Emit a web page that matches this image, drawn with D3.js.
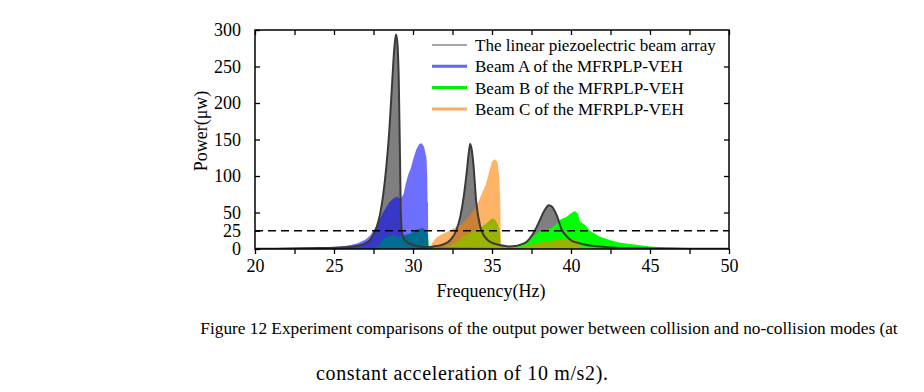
<!DOCTYPE html>
<html>
<head>
<meta charset="utf-8">
<script src="https://cdn.jsdelivr.net/npm/d3@7"></script>
<style>
  html, body { margin: 0; padding: 0; background: #fff; }
  svg { display: block; font-family: "Times New Roman", "Liberation Serif", serif; }
</style>
</head>
<body>
<svg id="chart" width="924" height="392"></svg>
<script>
// ---- data ----
const xTicks = [20, 25, 30, 35, 40, 45, 50];
const yTicks = [0, 25, 50, 100, 150, 200, 250, 300];
const thresholdLevel = 25;

const legendLabels = [
  "The linear piezoelectric beam array",
  "Beam A of the MFRPLP-VEH",
  "Beam B of the MFRPLP-VEH",
  "Beam C of the MFRPLP-VEH"
];

// linear piezoelectric beam array (gray)
const linearF = [20, 22, 24, 25, 26, 26.5, 27, 27.3, 27.5, 27.7, 27.9, 28.1, 28.3, 28.5, 28.7, 28.8, 28.92, 29.0, 29.1, 29.18, 29.22, 29.27, 29.35, 29.5, 29.7, 30.0, 30.5, 30.9, 31.3, 31.7, 32.0, 32.35, 32.75, 33.0, 33.2, 33.4, 33.55, 33.62, 33.7, 33.82, 34.0, 34.25, 34.5, 34.8, 35.2, 35.6, 36.1, 36.5, 36.8, 37.2, 37.6, 38.0, 38.3, 38.6, 38.8, 39.1, 39.4, 39.7, 40.0, 40.5, 41.0, 42.0, 43.0, 45.0, 47.5, 50];
const linearP = [0.3, 0.6, 1.2, 1.8, 3, 4.5, 8, 13, 20, 30, 46, 72, 110, 162, 235, 270, 294, 285, 230, 120, 60, 30, 18, 12, 8, 5.5, 3, 2.5, 3.5, 5, 7, 12, 26, 45, 70, 105, 135, 144, 138, 117, 65, 31, 18, 11, 7, 5, 3.5, 4, 6, 10, 21, 38, 52, 60, 58, 46, 27, 18, 12, 8, 5.5, 3, 1.5, 0.8, 0.4, 0.2];

// Beam A (blue)
const beamAF = [20, 22, 24, 25, 25.5, 26, 26.5, 27, 27.3, 27.7, 28.1, 28.5, 28.8, 29.0, 29.2, 29.4, 29.55, 29.7, 29.85, 30.0, 30.2, 30.4, 30.55, 30.7, 30.85, 30.9, 30.92, 30.95, 30.96, 31.0, 31.5, 32, 33, 34, 35, 36, 38, 40, 42, 50];
const beamAP = [0.8, 1.2, 1.8, 2.5, 3.5, 5, 8, 13, 19, 32, 50, 64, 70, 72, 68, 75, 90, 102, 110, 122, 136, 144, 145, 140, 125, 100, 64, 64, 5, 4, 3.5, 3, 2.5, 2, 1.8, 1.5, 1, 0.5, 0.2, 0];

// Beam B (green)
const beamBF = [20, 26, 27.5, 27.8, 28.1, 28.5, 28.8, 29.0, 29.4, 29.8, 30.2, 30.6, 30.8, 30.95, 31.0, 31.5, 32.0, 32.4, 32.8, 33.2, 33.6, 34.0, 34.4, 34.7, 35.0, 35.2, 35.4, 35.5, 35.55, 35.6, 36.0, 36.5, 36.8, 37.2, 37.6, 38.0, 38.4, 38.7, 39.0, 39.3, 39.7, 40.0, 40.25, 40.45, 40.55, 40.9, 41.2, 41.8, 42.5, 43.1, 44.4, 45.0, 46.0, 47.0, 48.0, 50];
const beamBP = [0, 0.5, 1.5, 4, 14, 18, 19, 16, 19, 21, 26, 29, 25, 20, 4, 2.5, 3, 5, 10, 17, 22, 26, 31, 36, 42, 40, 32, 22, 3, 2.5, 2.5, 3.5, 6, 11, 17, 24, 26, 28, 33, 40, 44, 49, 52, 48, 38, 33, 25, 17, 12, 8.5, 5, 3.5, 2, 1, 0.5, 0.2];

// Beam C (orange)
const beamCF = [20, 31.1, 31.2, 31.5, 31.9, 32.3, 32.75, 32.88, 32.9, 32.95, 32.97, 33.2, 33.6, 34.0, 34.3, 34.6, 34.85, 35.0, 35.2, 35.35, 35.45, 35.52, 35.57, 35.6, 36.0, 37.0, 37.6, 38.3, 39.0, 39.7, 40.2, 40.5, 40.6, 41.0, 42, 50];
const beamCP = [0, 0, 8, 16, 21, 25, 30, 31, 38, 38, 32, 37, 46, 58, 73, 88, 108, 120, 123, 119, 100, 70, 3, 2.5, 2.5, 3, 7, 10, 12, 14, 14, 10, 3, 1.5, 0.5, 0];

// ---- chart ----
const svg = d3.select("#chart");
const x = d3.scaleLinear().domain([20, 50]).range([255, 729]);
const y = d3.scaleLinear().domain([0, 300]).range([249, 30]);

const toPts = (F, P) => F.map((f, i) => [f, P[i]]);
const area = d3.area().x(d => x(d[0])).y0(y(0)).y1(d => y(d[1]));
const line = d3.line().x(d => x(d[0])).y(d => y(d[1])).curve(d3.curveMonotoneX);

svg.append("clipPath").attr("id", "pc").append("rect")
  .attr("x", 255).attr("y", 30).attr("width", 474).attr("height", 219);
const plot = svg.append("g").attr("clip-path", "url(#pc)");

plot.append("path").datum(toPts(linearF, linearP)).attr("d", area.curve(d3.curveMonotoneX))
  .attr("fill", "#7f7f7f");
plot.append("path").datum(toPts(beamBF, beamBP)).attr("d", area.curve(d3.curveLinear))
  .attr("fill", "#00ff00");
plot.append("path").datum(toPts(beamAF, beamAP)).attr("d", area.curve(d3.curveLinear))
  .attr("fill", "rgba(0,0,255,0.57)");
plot.append("path").datum(toPts(beamCF, beamCP)).attr("d", area.curve(d3.curveLinear))
  .attr("fill", "rgba(255,128,0,0.6)");
plot.append("path").datum(toPts(linearF, linearP)).attr("d", line)
  .attr("fill", "none").attr("stroke", "#3a3a3a").attr("stroke-width", 2);

// threshold dashed line
svg.append("line")
  .attr("x1", x(20)).attr("x2", x(50)).attr("y1", y(thresholdLevel)).attr("y2", y(thresholdLevel))
  .attr("stroke", "#000").attr("stroke-width", 1.5).attr("stroke-dasharray", "8,5");

// axes
const tickFont = g => g.selectAll("text").attr("font-size", 18)
  .attr("font-family", "'Times New Roman','Liberation Serif',serif").attr("fill", "#000");
const styleAxis = g => { g.select(".domain").remove(); g.selectAll("line").attr("stroke", "#000").attr("stroke-width", 1.3); };

const xMinor = d3.range(20, 50.01, 2.5);
svg.append("g").attr("transform", "translate(0,249)")
  .call(d3.axisBottom(x).tickValues(xMinor).tickSize(5).tickPadding(5)
    .tickFormat(d => (xTicks.includes(d) ? d : "")))
  .call(styleAxis).call(tickFont);
svg.append("g").attr("transform", "translate(0,30)")
  .call(d3.axisTop(x).tickValues(xMinor).tickSize(-5).tickFormat(""))
  .call(styleAxis);
svg.append("g").attr("transform", "translate(255,0)")
  .call(d3.axisLeft(y).tickValues(yTicks).tickSize(-5).tickPadding(14))
  .call(styleAxis).call(tickFont);
svg.append("g").attr("transform", "translate(729,0)")
  .call(d3.axisRight(y).tickValues([50, 100, 150, 200, 250]).tickSize(-5).tickFormat(""))
  .call(styleAxis);

// frame
svg.append("rect").attr("x", 255).attr("y", 30).attr("width", 474).attr("height", 219)
  .attr("fill", "none").attr("stroke", "#000").attr("stroke-width", 1.5);

// axis titles
svg.append("text").attr("x", 491).attr("y", 297).attr("text-anchor", "middle")
  .attr("font-size", 18).text("Frequency(Hz)");
svg.append("text").attr("transform", "translate(207,131) rotate(-90)").attr("text-anchor", "middle")
  .attr("font-size", 18).text("Power(μw)");

// legend
const legendColors = ["#888888", "#6464ff", "#00ee00", "#ffaa66"];
const legendWidths = [1.5, 3, 3, 3];
const lg = svg.append("g");
legendLabels.forEach((lab, i) => {
  const yy = 45 + i * 21.3;
  lg.append("line").attr("x1", 432).attr("x2", 467).attr("y1", yy).attr("y2", yy)
    .attr("stroke", legendColors[i]).attr("stroke-width", legendWidths[i]);
  lg.append("text").attr("x", 475).attr("y", yy + 6).attr("font-size", 17).text(lab);
});

// caption
svg.append("text").attr("x", 549).attr("y", 334).attr("text-anchor", "middle").attr("font-size", 17.3)
  .text("Figure 12 Experiment comparisons of the output power between collision and no-collision modes (at");
svg.append("text").attr("x", 462).attr("y", 380).attr("text-anchor", "middle").attr("font-size", 20)
  .attr("textLength", 292).attr("lengthAdjust", "spacing")
  .text("constant acceleration of 10 m/s2).");
</script>
</body>
</html>
